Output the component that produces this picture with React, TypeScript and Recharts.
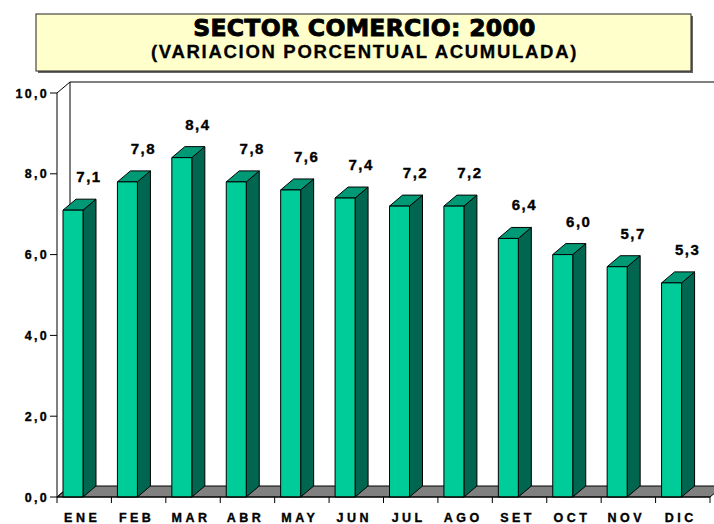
import React from 'react';
import { BarChart, Bar, XAxis, YAxis, Customized, LabelList } from 'recharts';

const categories = ['ENE', 'FEB', 'MAR', 'ABR', 'MAY', 'JUN', 'JUL', 'AGO', 'SET', 'OCT', 'NOV', 'DIC'];
const values = [7.1, 7.8, 8.4, 7.8, 7.6, 7.4, 7.2, 7.2, 6.4, 6.0, 5.7, 5.3];
const yTicks = [0, 2, 4, 6, 8, 10];
const titleLine1 = 'SECTOR COMERCIO: 2000';
const titleLine2 = '(VARIACION PORCENTUAL ACUMULADA)';

const data = categories.map((c, i) => ({ name: c, value: values[i] }));

const W = 714;
const H = 524;
const YW = 50;
const M = { top: 93, right: 4, bottom: 0, left: 7 };
const XH = 27;
const PL = M.left + YW;
const PR = W - M.right;
const PT = M.top;
const PB = H - M.bottom - XH;
const BAND = (PR - PL) / categories.length;
const DX = 13;
const DY = 11;
const SHIFT = -11;
const FONT = '"Liberation Sans", Arial, sans-serif';

const fmt = (v: number) => v.toFixed(1).replace('.', ',');

const Bar3D = (props: any) => {
  const { x, y, width, height } = props;
  if (height == null || height <= 0) return null;
  const fx = x + SHIFT;
  const w = width;
  return (
    <g stroke="#000" strokeWidth={1} strokeLinejoin="round">
      <polygon
        points={`${fx + w},${y} ${fx + w + DX},${y - DY} ${fx + w + DX},${y + height - DY} ${fx + w},${y + height}`}
        fill="#006650"
      />
      <polygon
        points={`${fx},${y} ${fx + DX},${y - DY} ${fx + w + DX},${y - DY} ${fx + w},${y}`}
        fill="#009975"
      />
      <rect x={fx} y={y} width={w} height={height} fill="#00CC99" />
    </g>
  );
};

const Background = () => (
  <g>
    <polygon
      points={`${PL},${PB} ${PR},${PB} ${PR + DX},${PB - DY} ${PL + DX},${PB - DY}`}
      fill="#808080"
      stroke="#000"
      strokeWidth={1}
    />
    <line x1={PL + DX} y1={PT - DY} x2={PL + DX} y2={PB - DY} stroke="#000" />
    <line x1={PL + DX} y1={PT - DY} x2={W} y2={PT - DY} stroke="#000" />
    <line x1={PL} y1={PT} x2={PL + DX} y2={PT - DY} stroke="#000" />
    <line x1={PL} y1={PB} x2={PL + DX} y2={PB - DY} stroke="#000" />
  </g>
);

const Title = () => (
  <g>
    <rect x={38} y={16} width={655} height={57} fill="#666" />
    <rect x={36} y={14} width={655} height={57} fill="#FFFFCC" stroke="#222" strokeWidth={1} />
    <text
      x={364.5}
      y={35.5}
      textAnchor="middle"
      fontFamily='"DejaVu Sans", sans-serif'
      fontWeight="bold"
      fontSize={23.5}
      letterSpacing={0.3}
      stroke="#000"
      strokeWidth={0.9}
      fill="#000"
    >
      {titleLine1}
    </text>
    <text
      x={364.5}
      y={57.5}
      textAnchor="middle"
      fontFamily={FONT}
      fontWeight="bold"
      fontSize={18.5}
      letterSpacing={1.7}
      stroke="#000"
      strokeWidth={0.3}
      fill="#000"
    >
      {titleLine2}
    </text>
  </g>
);

const XTick = (props: any) => {
  const { x, payload, index } = props;
  const left = x - BAND / 2;
  return (
    <g>
      <line x1={left} y1={PB} x2={left} y2={PB + 6} stroke="#000" />
      {index === categories.length - 1 && (
        <line x1={left + BAND} y1={PB} x2={left + BAND} y2={PB + 6} stroke="#000" />
      )}
      <text
        x={x - 2}
        y={522}
        textAnchor="middle"
        fontFamily={FONT}
        fontWeight="bold"
        fontSize={12.5}
        letterSpacing={3.5}
        stroke="#000"
        strokeWidth={0.35}
        fill="#000"
      >
        {payload.value}
      </text>
    </g>
  );
};

const YTick = (props: any) => {
  const { x, y, payload } = props;
  return (
    <text
      x={x + 2}
      y={y + 4.5}
      textAnchor="end"
      fontFamily={FONT}
      fontWeight="bold"
      fontSize={12.5}
      letterSpacing={2.3}
      stroke="#000"
      strokeWidth={0.35}
      fill="#000"
    >
      {fmt(payload.value)}
    </text>
  );
};

const ValueLabel = (props: any) => {
  const { x, y, value } = props;
  return (
    <text
      x={x + SHIFT + 26}
      y={y - 28}
      textAnchor="middle"
      fontFamily={FONT}
      fontWeight="bold"
      fontSize={15}
      letterSpacing={1.5}
      stroke="#000"
      strokeWidth={0.35}
      fill="#000"
    >
      {fmt(value)}
    </text>
  );
};

export default function App() {
  return (
    <div style={{ position: 'absolute', left: 0, top: 0, width: W, height: H, background: '#fff' }}>
      <BarChart width={W} height={H} data={data} margin={M}>
        <Customized component={Background} />
        <Customized component={Title} />
        <XAxis
          dataKey="name"
          height={XH}
          tick={<XTick />}
          tickLine={false}
          axisLine={{ stroke: '#000' }}
          interval={0}
        />
        <YAxis
          width={YW}
          domain={[0, 10]}
          ticks={yTicks}
          tick={<YTick />}
          tickSize={7}
          tickMargin={3}
          tickLine={{ stroke: '#000' }}
          axisLine={{ stroke: '#000' }}
          interval={0}
        />
        <Bar dataKey="value" barSize={20} shape={<Bar3D />} isAnimationActive={false}>
          <LabelList dataKey="value" content={<ValueLabel />} />
        </Bar>
      </BarChart>
    </div>
  );
}
